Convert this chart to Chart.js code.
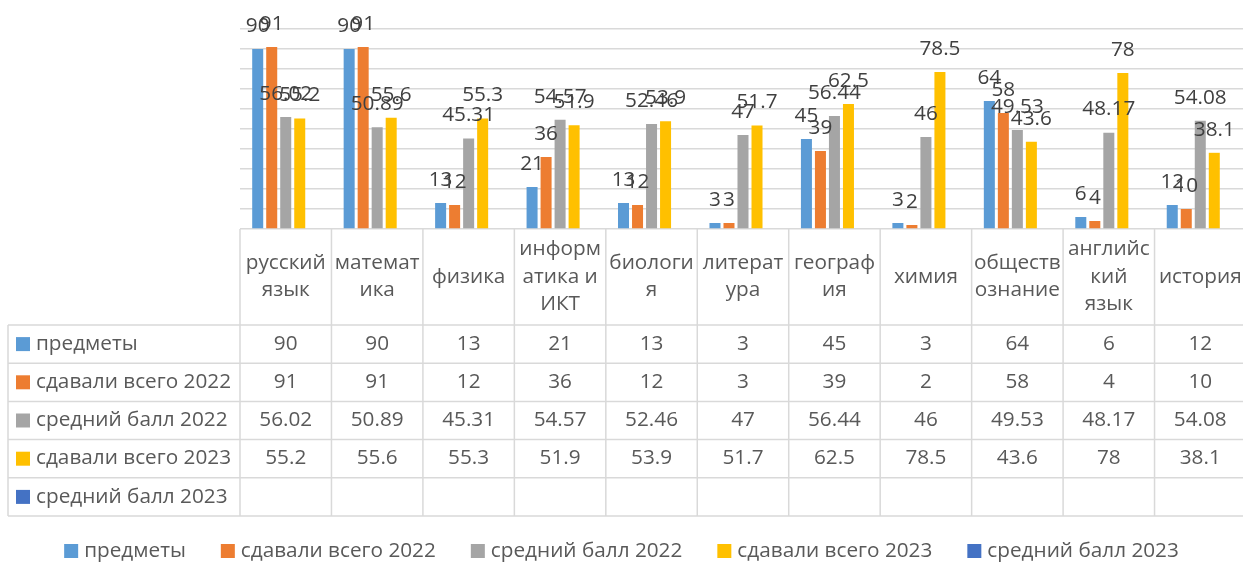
<!DOCTYPE html>
<html>
<head>
<meta charset="utf-8">
<script src="https://cdn.jsdelivr.net/npm/chart.js@4"></script>
<style>
  html, body { margin: 0; padding: 0; background: #ffffff; overflow: hidden; }
  #wrap { width: 1246px; height: 562px; }
</style>
</head>
<body>
<div id="wrap"><canvas id="c" width="1246" height="562"></canvas></div>
<script>
// ---- data ----
const categories = ['русский язык', 'математика', 'физика', 'информатика и ИКТ', 'биология', 'литература', 'география', 'химия', 'обществознание', 'английский язык', 'история'];
const categoryLines = [['русский', 'язык'], ['математ', 'ика'], ['физика'], ['информ', 'атика и', 'ИКТ'], ['биологи', 'я'], ['литерат', 'ура'], ['географ', 'ия'], ['химия'], ['обществ', 'ознание'], ['английс', 'кий', 'язык'], ['история']];
const seriesNames = ['предметы', 'сдавали всего 2022', 'средний балл 2022', 'сдавали всего 2023', 'средний балл 2023'];
const predmety = [90, 90, 13, 21, 13, 3, 45, 3, 64, 6, 12];
const sdavali2022 = [91, 91, 12, 36, 12, 3, 39, 2, 58, 4, 10];
const ball2022 = [56.02, 50.89, 45.31, 54.57, 52.46, 47, 56.44, 46, 49.53, 48.17, 54.08];
const sdavali2023 = [55.2, 55.6, 55.3, 51.9, 53.9, 51.7, 62.5, 78.5, 43.6, 78, 38.1];
const ball2023 = [null, null, null, null, null, null, null, null, null, null, null];
const yTicks = { min: 0, max: 100, step: 10 };

const seriesValues = [predmety, sdavali2022, ball2022, sdavali2023, ball2023];
const seriesColors = ['#5B9BD5', '#ED7D31', '#A5A5A5', '#FFC000', '#4472C4'];

const FONT_FAMILY = '"Open Sans", "Noto Sans", sans-serif';
const FONT_PX = 20;
let scaleX = null;
function setFont(ctx) {
  ctx.font = FONT_PX + 'px ' + FONT_FAMILY;
  if (scaleX === null) {
    const w = ctx.measureText('сдавали всего 2022').width;
    scaleX = 195 / w;
  }
  return scaleX;
}
function drawText(ctx, text, x, y, align) {
  ctx.save();
  ctx.translate(x, y);
  ctx.scale(scaleX, 1);
  ctx.textAlign = align;
  ctx.fillText(text, 0, 0);
  ctx.restore();
}

const labelPlugin = {
  id: 'barLabels',
  afterDatasetsDraw(chart) {
    const ctx = chart.ctx;
    ctx.save();
    setFont(ctx);
    ctx.fillStyle = '#404040';
    ctx.textBaseline = 'middle';
    chart.data.datasets.forEach((ds, di) => {
      const meta = chart.getDatasetMeta(di);
      meta.data.forEach((el, i) => {
        const v = ds.data[i];
        if (v === null || v === undefined) return;
        drawText(ctx, String(v), el.x, el.y - 23, 'center');
      });
    });
    ctx.restore();
  }
};

const tablePlugin = {
  id: 'dataTable',
  afterDraw(chart) {
    const ctx = chart.ctx;
    const ca = chart.chartArea;
    const xs = chart.scales.x;
    const n = categories.length;
    const colW = (ca.right - ca.left) / n;
    const headerTop = ca.bottom;
    const headerBottom = 325;
    const rowH = 38.2;
    const tableLeft = 8;
    const nRows = seriesNames.length;
    const tableBottom = headerBottom + rowH * nRows;

    ctx.save();
    ctx.strokeStyle = '#d9d9d9';
    ctx.lineWidth = 1.5;
    const line = (x1, y1, x2, y2) => { ctx.beginPath(); ctx.moveTo(x1, y1); ctx.lineTo(x2, y2); ctx.stroke(); };
    for (let i = 0; i <= n; i++) {
      const xx = ca.left + i * colW;
      line(xx, headerTop, xx, tableBottom);
    }
    line(tableLeft, headerBottom, tableLeft, tableBottom);
    for (let r = 0; r <= nRows; r++) {
      const yy = headerBottom + r * rowH;
      line(tableLeft, yy, ca.right, yy);
    }

    const sx = setFont(ctx);
    ctx.fillStyle = '#595959';
    ctx.textBaseline = 'middle';
    // header (category) cells
    const headerMid = (headerTop + headerBottom) / 2;
    const lh = 27.5;
    categoryLines.forEach((lines, i) => {
      const cx = xs.getPixelForValue(i);
      const y0 = headerMid - (lines.length - 1) * lh / 2;
      lines.forEach((t, k) => drawText(ctx, t, cx, y0 + k * lh, 'center'));
    });
    // data rows
    seriesNames.forEach((name, r) => {
      const cy = headerBottom + rowH * (r + 0.5);
      ctx.fillStyle = seriesColors[r];
      ctx.fillRect(16, cy - 7, 14, 14);
      ctx.fillStyle = '#595959';
      drawText(ctx, name, 36, cy, 'left');
      seriesValues[r].forEach((v, i) => {
        if (v === null) return;
        drawText(ctx, String(v), xs.getPixelForValue(i), cy, 'center');
      });
    });

    // legend
    const sq = 14, gapSqText = 6, gapItem = 35;
    const widths = seriesNames.map(t => ctx.measureText(t).width * sx);
    let total = 0;
    widths.forEach((w, i) => { total += sq + gapSqText + w + (i < widths.length - 1 ? gapItem : 0); });
    let lx = 621.5 - total / 2;
    const ly = 551;
    seriesNames.forEach((t, i) => {
      ctx.fillStyle = seriesColors[i];
      ctx.fillRect(lx, ly - 7, sq, sq);
      ctx.fillStyle = '#595959';
      drawText(ctx, t, lx + sq + gapSqText, ly, 'left');
      lx += sq + gapSqText + widths[i] + gapItem;
    });
    ctx.restore();
  }
};

new Chart(document.getElementById('c'), {
  type: 'bar',
  data: {
    labels: categories,
    datasets: seriesNames.map((name, i) => ({
      label: name,
      data: seriesValues[i],
      backgroundColor: seriesColors[i],
      borderWidth: 0,
      barPercentage: 0.786,
      categoryPercentage: 0.766
    }))
  },
  options: {
    responsive: false,
    animation: false,
    devicePixelRatio: 1,
    layout: { padding: { left: 240, top: 29, right: 0, bottom: 333 } },
    plugins: { legend: { display: false }, tooltip: { enabled: false } },
    scales: {
      x: { display: false },
      y: {
        min: yTicks.min, max: yTicks.max,
        ticks: { display: false, stepSize: yTicks.step },
        grid: { color: '#d9d9d9', lineWidth: 1.5, drawTicks: false },
        border: { display: false }
      }
    }
  },
  plugins: [labelPlugin, tablePlugin]
});
</script>
</body>
</html>
